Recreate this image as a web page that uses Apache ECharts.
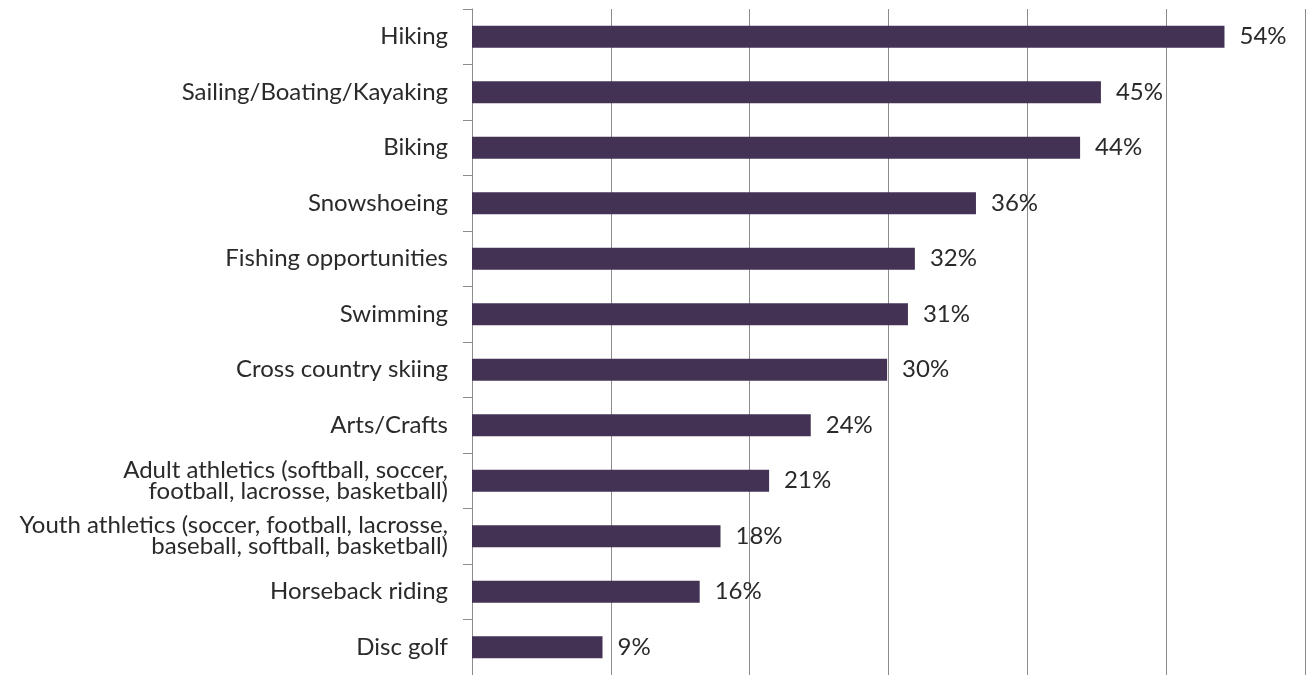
<!DOCTYPE html>
<html><head><meta charset="utf-8">
<script src="https://cdn.jsdelivr.net/npm/echarts@6/dist/echarts.min.js"></script>
<style>html,body{margin:0;padding:0;background:#fff}#c{width:1306px;height:675px}</style>
</head><body><div id="c"></div>
<script>
const categories = ["Hiking","Sailing/Boating/Kayaking","Biking","Snowshoeing","Fishing opportunities","Swimming","Cross country skiing","Arts/Crafts","Adult athletics (softball, soccer,\nfootball, lacrosse, basketball)","Youth athletics (soccer, football, lacrosse,\nbaseball, softball, basketball)","Horseback riding","Disc golf"];
const values = [54.2,45.3,43.8,36.3,31.9,31.4,29.9,24.4,21.4,17.9,16.4,9.4];
const valueTicks = [0,10,20,30,40,50,60];

const chart = echarts.init(document.getElementById('c'));
chart.setOption({
  animation:false,
  grid:{left:472,right:1,top:9,bottom:-1,containLabel:false},
  xAxis:{type:'value',min:valueTicks[0],max:valueTicks[valueTicks.length-1],interval:10,
    axisLabel:{show:false},axisTick:{show:false},axisLine:{show:false},
    splitLine:{show:true,lineStyle:{color:'#8c8c8c',width:1}}},
  yAxis:{type:'category',inverse:true,data:categories,
    axisLine:{show:true,lineStyle:{color:'#8c8c8c',width:1}},
    axisTick:{show:true,length:9,lineStyle:{color:'#8c8c8c'}},
    axisLabel:{margin:24,fontFamily:'Lato',fontSize:24,color:'#2a2a2a',lineHeight:21,align:'right',padding:[0,0,3,0]}},
  series:[{type:'bar',data:values,barWidth:22,itemStyle:{color:'#433254'},
    label:{show:true,position:'right',distance:15,formatter:p=>Math.round(p.value)+'%',fontFamily:'Lato',fontSize:24,color:'#2a2a2a',padding:[0,0,3,0]}}]
});
</script></body></html>
